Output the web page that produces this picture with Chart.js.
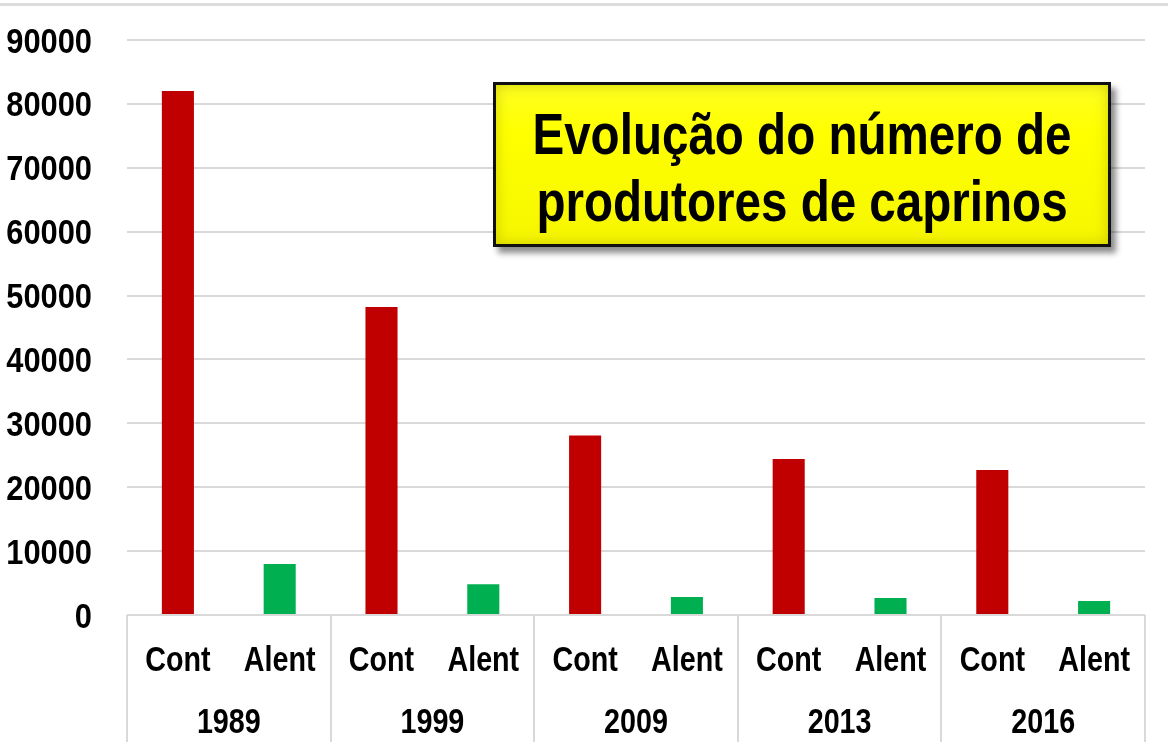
<!DOCTYPE html>
<html>
<head>
<meta charset="utf-8">
<script src="https://cdn.jsdelivr.net/npm/chart.js@4"></script>
<style>
  html, body { margin:0; padding:0; background:#fff; }
  #wrap { position:relative; width:1168px; height:742px; overflow:hidden; }
  #topline { position:absolute; left:0; top:3px; width:1168px; height:3px; background:#DCDCDC; }
  #titleBox {
    position:absolute; left:493px; top:82px; width:618px; height:165px;
    box-sizing:border-box; border:3px solid #111;
    background:linear-gradient(#FFFF22, #FFFF00 30%, #F6F600);
    box-shadow: 5px 6px 6px rgba(0,0,0,0.45), inset 0 0 14px rgba(170,170,0,0.55);
  }
  #titleText {
    position:absolute; left:-100px; right:-100px; top:15px;
    font-family:"Liberation Sans",Arial,sans-serif;
    font-weight:bold; font-size:58px; line-height:67px; color:#000;
    text-align:center; white-space:nowrap;
    transform:scaleX(0.82); transform-origin:50% 50%;
  }
</style>
</head>
<body>
<div id="wrap">
  <canvas id="chart" width="1168" height="742"></canvas>
  <div id="topline"></div>
  <div id="titleBox"><div id="titleText">Evolução do número de<br>produtores de caprinos</div></div>
</div>
<script>
// data
const years = ['1989', '1999', '2009', '2013', '2016'];
const regions = ['Cont', 'Alent'];
const contValues = [82000, 48200, 28100, 24400, 22700];
const alentValues = [8000, 4800, 2800, 2650, 2200];
const yTicks = [0, 10000, 20000, 30000, 40000, 50000, 60000, 70000, 80000, 90000];

const fontFam = '"Liberation Sans",Arial,sans-serif';

// one bar per category: Cont, Alent, Cont, Alent ...
var labels = [];
var values = [];
var colors = [];
years.forEach(function (y, i) {
    labels.push(regions[0]);
    values.push(contValues[i]);
    colors.push('#C00000');
    labels.push(regions[1]);
    values.push(alentValues[i]);
    colors.push('#00B050');
});

// the original labels use a narrow face, so squeeze the text horizontally
function narrowText(ctx, txt, x, y, align, sq) {
    ctx.save();
    ctx.scale(sq, 1);
    ctx.textAlign = align;
    ctx.fillText(txt, x / sq, y);
    ctx.restore();
}

// axis labels, year row and group separators
const labelPlugin = {
    id: 'labelPlugin',
    afterDraw(chart) {
        const ctx = chart.ctx;
        const xs = chart.scales.x;
        const ys = chart.scales.y;
        const top = chart.chartArea.bottom;
        const step = xs.getPixelForValue(1) - xs.getPixelForValue(0);
        ctx.save();
        ctx.strokeStyle = '#D9D9D9';
        ctx.lineWidth = 2;
        for (let g = 0; g <= years.length; g++) {
            const x = Math.round(xs.getPixelForValue(g * 2) - step / 2);
            ctx.beginPath();
            ctx.moveTo(x, top);
            ctx.lineTo(x, chart.height);
            ctx.stroke();
        }
        ctx.fillStyle = '#000';
        ctx.font = 'bold 35px ' + fontFam;
        ctx.textBaseline = 'alphabetic';
        yTicks.forEach(function (v) {
            narrowText(ctx, String(v), 92, ys.getPixelForValue(v) + 12.5, 'right', 0.88);
        });
        labels.forEach(function (l, i) {
            narrowText(ctx, l, xs.getPixelForValue(i), 671, 'center', 0.82);
        });
        years.forEach(function (y, g) {
            const cx = (xs.getPixelForValue(g * 2) + xs.getPixelForValue(g * 2 + 1)) / 2;
            narrowText(ctx, y, cx, 733, 'center', 0.82);
        });
        ctx.restore();
    }
};

const ctx = document.getElementById('chart').getContext('2d');
const chart = new Chart(ctx, {
    type: 'bar',
    data: {
        labels: labels,
        datasets: [{
            data: values,
            backgroundColor: colors,
            borderWidth: 0,
            barPercentage: 0.315,
            categoryPercentage: 1
        }]
    },
    options: {
        responsive: false,
        animation: false,
        layout: { padding: { top: 40, right: 23, left: 0, bottom: 0 } },
        plugins: { legend: { display: false }, tooltip: { enabled: false } },
        scales: {
            x: {
                grid: { display: false },
                border: { display: false },
                ticks: { display: false },
                afterFit: function (s) { s.height = 127; }
            },
            y: {
                min: 0,
                max: 90000,
                afterBuildTicks: function (s) { s.ticks = yTicks.map(v => ({ value: v })); },
                grid: { color: '#D9D9D9', lineWidth: 2, drawTicks: false },
                border: { display: false },
                ticks: { display: false },
                afterFit: function (s) { s.width = 127; }
            }
        }
    },
    plugins: [labelPlugin]
});
</script>
</body>
</html>
